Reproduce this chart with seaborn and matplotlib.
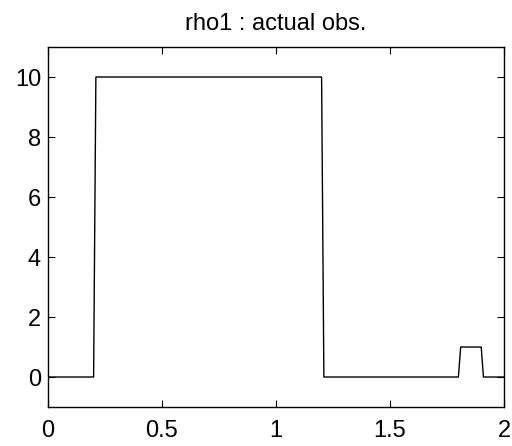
import matplotlib
matplotlib.use("Agg")
import matplotlib.pyplot as plt
import seaborn as sns
import pandas as pd

# Piecewise density profile (breakpoints of the observed rho1 signal)
x_pts = [0.0, 0.2, 0.21, 1.2, 1.21, 1.8, 1.81, 1.9, 1.91, 2.0]
rho1 = [0, 0, 10, 10, 0, 0, 1, 1, 0, 0]

x_ticks = [0, 0.5, 1, 1.5, 2]
x_ticklabels = ["0", "0.5", "1", "1.5", "2"]
y_ticks = [0, 2, 4, 6, 8, 10]

sns.set_theme(style="white")
plt.rcParams["font.family"] = ["Liberation Sans", "DejaVu Sans"]

df = pd.DataFrame({"x": x_pts, "rho1": rho1})

fig = plt.figure(figsize=(5.12, 4.46), dpi=100)
ax = fig.add_axes([0.09375, 0.0874, 0.8906, 0.8072])
sns.lineplot(data=df, x="x", y="rho1", ax=ax, color="black", linewidth=1.0,
             sort=False, estimator=None)

ax.set_xlim(0, 2)
ax.set_ylim(-1, 11)
ax.set_xticks(x_ticks)
ax.set_xticklabels(x_ticklabels)
ax.set_yticks(y_ticks)
ax.set_xlabel("")
ax.set_ylabel("")
ax.set_title("rho1 : actual obs.", fontsize=17, pad=12, color="black")

ax.tick_params(direction="in", length=5, width=0.8, colors="black",
               labelsize=17, top=True, right=True, bottom=True, left=True,
               labelcolor="black")
ax.tick_params(axis="x", pad=9)
ax.tick_params(axis="y", pad=5)
for s in ax.spines.values():
    s.set_visible(True)
    s.set_color("black")
    s.set_linewidth(1.0)

fig.savefig("out.png", dpi=100, facecolor="white")
